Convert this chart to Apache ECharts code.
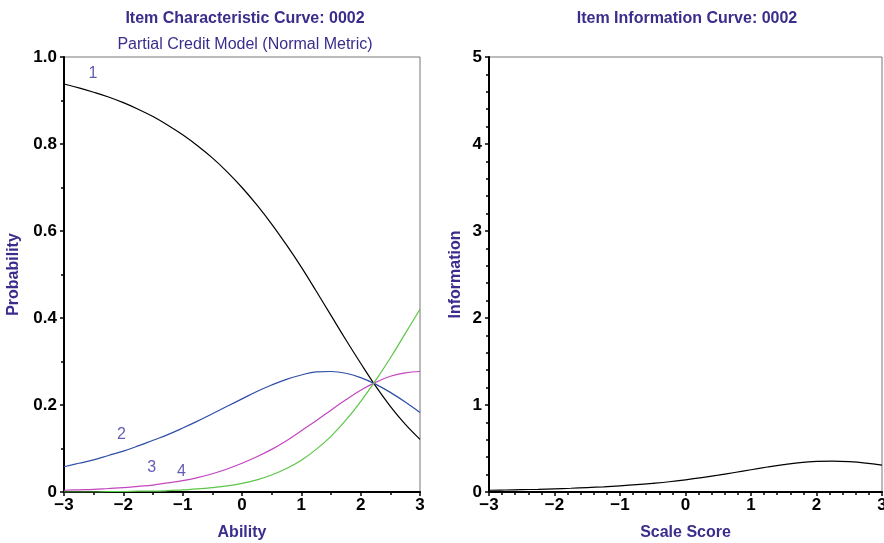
<!DOCTYPE html>
<html><head><meta charset="utf-8">
<script src="https://cdn.jsdelivr.net/npm/echarts@6/dist/echarts.min.js"></script>
<style>html,body{margin:0;padding:0;background:#fff}#c{width:884px;height:543px}</style>
</head><body><div id="c"></div>
<script>
const theta = [-3,-2.75,-2.5,-2.25,-2,-1.75,-1.5,-1.25,-1,-0.75,-0.5,-0.25,0,0.25,0.5,0.75,1,1.25,1.5,1.75,2,2.25,2.5,2.75,3];
const p1 = [0.938,0.929,0.919,0.908,0.895,0.880,0.863,0.843,0.821,0.796,0.768,0.736,0.700,0.660,0.616,0.568,0.517,0.462,0.406,0.350,0.296,0.244,0.197,0.156,0.121];
const p2 = [0.058,0.066,0.074,0.084,0.094,0.106,0.119,0.132,0.147,0.163,0.180,0.197,0.214,0.231,0.246,0.259,0.269,0.276,0.277,0.273,0.263,0.248,0.229,0.207,0.183];
const p3 = [0.004,0.005,0.006,0.008,0.010,0.013,0.016,0.021,0.026,0.033,0.042,0.053,0.066,0.081,0.098,0.118,0.141,0.164,0.188,0.212,0.234,0.252,0.266,0.274,0.277];
const p4 = [0.000,0.000,0.000,0.001,0.001,0.002,0.002,0.003,0.005,0.007,0.010,0.014,0.020,0.028,0.039,0.054,0.073,0.098,0.128,0.165,0.208,0.256,0.308,0.364,0.420];
const info = [0.020,0.023,0.027,0.031,0.037,0.043,0.051,0.060,0.071,0.084,0.100,0.118,0.140,0.165,0.193,0.224,0.256,0.287,0.315,0.338,0.352,0.356,0.349,0.333,0.309];
const curveLabels = ['1','2','3','4'];
const curveLabelX = [-2.51,-2.03,-1.52,-1.02];
const curveLabelY = [0.961,0.133,0.057,0.046];

const purple = '#3a2d8c';
const fontFam = 'Liberation Sans, Arial, sans-serif';
const zip = a => theta.map((t,i)=>[t,a[i]]);
const fmtX = v => (v<0?'\u2212'+Math.abs(v):String(v));

const chart = echarts.init(document.getElementById('c'));
const axisLine = {show:true, onZero:false, lineStyle:{color:'#000', width:2}};
const xBase = (gi, name, split) => ({
  type:'value', gridIndex:gi, min:-3, max:3, interval:1,
  name, nameLocation:'middle', nameGap:33,
  nameTextStyle:{color:purple, fontWeight:'bold', fontSize:16, fontFamily:fontFam},
  axisLine, axisTick:{show:true, length:4, lineStyle:{color:'#000', width:1.5}},
  minorTick:{show:true, splitNumber:split, length:3, lineStyle:{color:'#000', width:1.5}},
  axisLabel:{color:'#000', fontWeight:'bold', fontSize:17, fontFamily:fontFam, margin:5, formatter:fmtX},
  splitLine:{show:false}
});
const yBase = (gi, name, max, interval, split, fmt, gap) => ({
  type:'value', gridIndex:gi, min:0, max, interval,
  name, nameLocation:'middle', nameGap:gap, nameRotate:90,
  nameTextStyle:{color:purple, fontWeight:'bold', fontSize:16, fontFamily:fontFam},
  axisLine, axisTick:{show:true, length:4, lineStyle:{color:'#000', width:1.5}},
  minorTick:{show:true, splitNumber:split, length:3, lineStyle:{color:'#000', width:1.5}},
  axisLabel:{color:'#000', fontWeight:'bold', fontSize:17, fontFamily:fontFam, margin:7, formatter:fmt},
  splitLine:{show:false}
});

chart.setOption({
  animation:false,
  title:[
    {text:'Item Characteristic Curve: 0002', left:240, top:6, textAlign:'center',
     textStyle:{color:purple, fontWeight:'bold', fontSize:16, fontFamily:fontFam},
     subtext:'Partial Credit Model (Normal Metric)', itemGap:10,
     subtextStyle:{color:purple, fontSize:16, fontFamily:fontFam}},
    {text:'Item Information Curve: 0002', left:682, top:6, textAlign:'center',
     textStyle:{color:purple, fontWeight:'bold', fontSize:16, fontFamily:fontFam}}
  ],
  grid:[
    {left:64, right:464, top:57, bottom:51, show:true, borderColor:'#777', borderWidth:1, containLabel:false, outerBoundsMode:'none'},
    {left:489, right:2, top:57, bottom:51, show:true, borderColor:'#777', borderWidth:1, containLabel:false, outerBoundsMode:'none'}
  ],
  xAxis:[xBase(0,'Ability',2), xBase(1,'Scale Score',5)],
  yAxis:[
    yBase(0,'Probability',1,0.2,2,v=>v===0?'0':v.toFixed(1),42),
    yBase(1,'Information',5,1,5,v=>String(v),25)
  ],
  series:[
    {type:'line', xAxisIndex:0, yAxisIndex:0, data:zip(p1), smooth:0.4, showSymbol:false, lineStyle:{color:'#000', width:1.2}},
    {type:'line', xAxisIndex:0, yAxisIndex:0, data:zip(p2), smooth:0.4, showSymbol:false, lineStyle:{color:'#2f4ea6', width:1.2}},
    {type:'line', xAxisIndex:0, yAxisIndex:0, data:zip(p3), smooth:0.4, showSymbol:false, lineStyle:{color:'#c346c0', width:1.2}},
    {type:'line', xAxisIndex:0, yAxisIndex:0, data:zip(p4), smooth:0.4, showSymbol:false, lineStyle:{color:'#5cc646', width:1.2}},
    {type:'scatter', xAxisIndex:0, yAxisIndex:0, symbolSize:0,
     data:curveLabels.map((t,i)=>({value:[curveLabelX[i],curveLabelY[i]], name:t})),
     label:{show:true, position:'inside', formatter:p=>p.name, color:'#3b33a0', fontSize:16, fontFamily:fontFam}},
    {type:'line', xAxisIndex:1, yAxisIndex:1, data:zip(info), smooth:0.4, showSymbol:false, lineStyle:{color:'#000', width:1.2}}
  ]
});
</script></body></html>
